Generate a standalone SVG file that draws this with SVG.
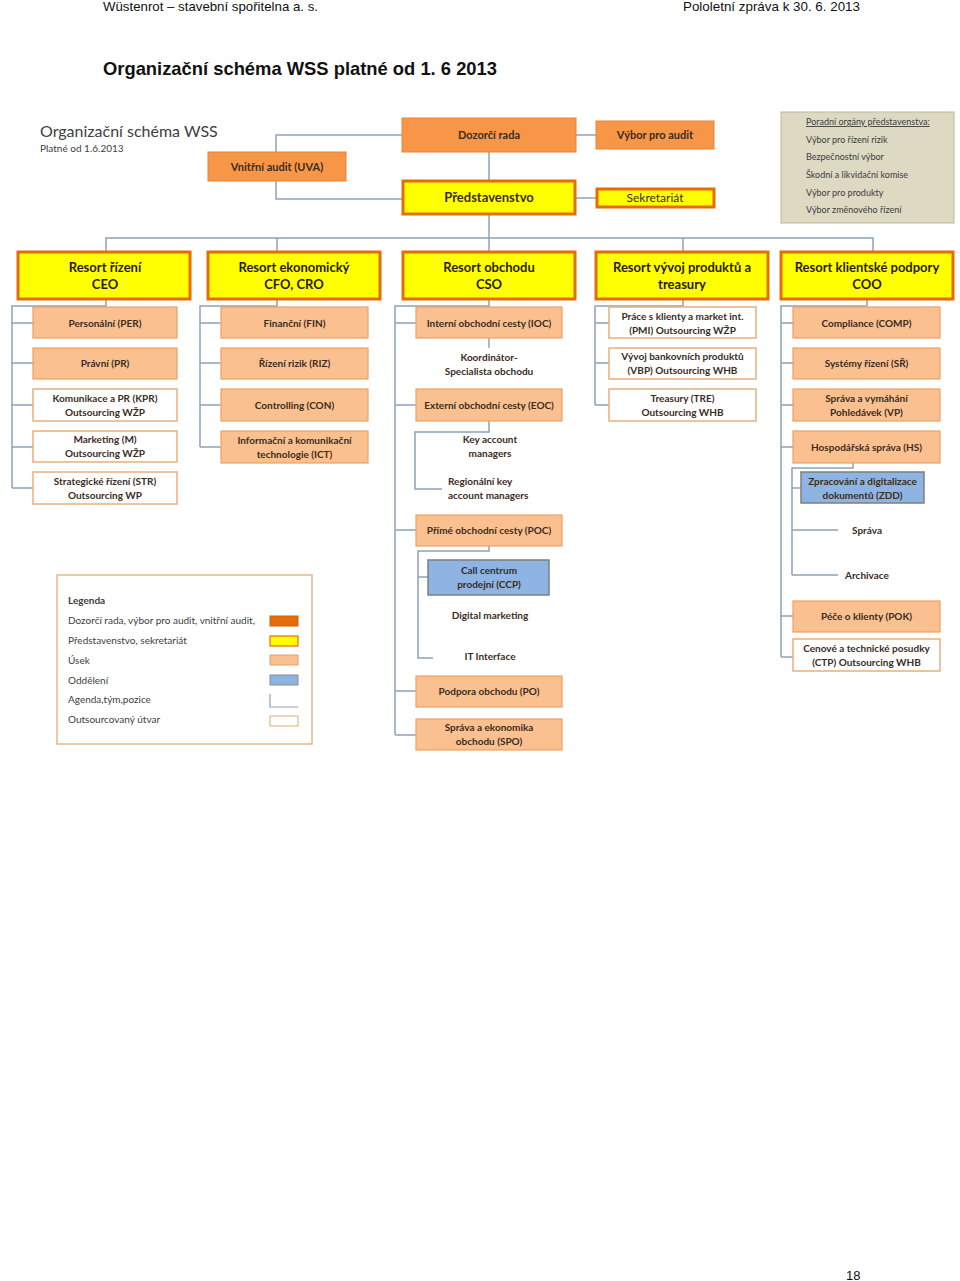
<svg xmlns="http://www.w3.org/2000/svg" width="960" height="1281" viewBox="0 0 960 1281">
<style>
.hdr{font-family:"Liberation Sans",Arial,sans-serif;fill:#111}
.t{font-family:Lato,"Open Sans",sans-serif;fill:#3a2c1e;text-anchor:middle}
.st{text-anchor:start}
.b{font-weight:bold;font-size:10px}
.r{font-weight:bold;font-size:13px;fill:#2a1c0c}
.lg{font-family:Lato,"Open Sans",sans-serif;fill:#404040;font-size:10px}
.po{font-family:Lato,"Open Sans",sans-serif;fill:#3c3c3c;font-size:9px}
.org{fill:#F79646;stroke:#E8853A;stroke-width:1}
.ye{fill:#FFFF00;stroke:#E46C0A;stroke-width:3}
.us{fill:#FAC090;stroke:#EDA063;stroke-width:1.2}
.ou{fill:#FFFFFF;stroke:#E8B07C;stroke-width:1.5}
.bl{fill:#8DB4E2;stroke:#7F7F7F;stroke-width:1.5}
.c{fill:none;stroke:#8FA2B8;stroke-width:1.5}
</style>

<!-- page header -->
<text class="hdr" x="103" y="11" font-size="13" textLength="215" lengthAdjust="spacingAndGlyphs">Wüstenrot – stavební spořitelna a. s.</text>
<text class="hdr" x="683" y="11" font-size="13" textLength="177" lengthAdjust="spacingAndGlyphs">Pololetní zpráva k 30. 6. 2013</text>
<text class="hdr" x="103" y="75" font-size="19" font-weight="bold" textLength="394" lengthAdjust="spacingAndGlyphs">Organizační schéma WSS platné od 1. 6 2013</text>
<text class="hdr" x="846" y="1280" font-size="13">18</text>

<!-- diagram title -->
<text x="40" y="137" font-family="Lato,'Open Sans',sans-serif" font-size="16" fill="#404040">Organizační schéma WSS</text>
<text x="40" y="152" font-family="Lato,'Open Sans',sans-serif" font-size="10" fill="#404040">Platné od 1.6.2013</text>

<!-- connectors -->
<g id="connectors" class="c">
<path d="M276,152 V135 H402"/>
<path d="M276,181 V199 H402"/>
<path d="M576,135 H596"/>
<path d="M489,152 V180"/>
<path d="M576,198 H596"/>
<path d="M489,215 V251"/>
<path d="M106,251 V238 H873 V251"/>
<path d="M277,238 V251"/>
<path d="M683,238 V251"/>
<!-- col1 -->
<path d="M106,300 V306 H12 V488"/>
<path d="M12,323 H33 M12,363 H33 M12,405 H33 M12,447 H33 M12,488 H33"/>
<!-- col2 -->
<path d="M277,300 V306 H200 V447"/>
<path d="M200,323 H221 M200,363 H221 M200,405 H221 M200,447 H221"/>
<!-- col3 -->
<path d="M489,300 V306 H395 V735"/>
<path d="M395,323 H416 M395,405 H416 M395,530 H416 M395,691 H416 M395,735 H416"/>
<path d="M489,338 V348"/>
<path d="M489,421 V432 H415 V489 H442"/>
<path d="M489,546 V551 H418 V658 H433"/>
<path d="M418,577 H428"/>
<!-- col4 -->
<path d="M683,300 V306 H595 V405"/>
<path d="M595,323 H609 M595,363 H609 M595,405 H609"/>
<!-- col5 -->
<path d="M867,300 V306 H781 V657"/>
<path d="M781,323 H793 M781,363 H793 M781,405 H793 M781,447 H793 M781,616 H793 M781,657 H793"/>
<path d="M853,463 V468 H792 V575"/>
<path d="M792,488 H801 M792,530 H838 M792,575 H838"/>
</g>

<!-- top nodes -->
<g id="dozorci-rada"><rect class="org" x="402" y="118" width="174" height="34"/><text class="t" x="489" y="139" font-size="11" font-weight="bold">Dozorčí rada</text></g>
<g id="vybor-audit"><rect class="org" x="596" y="121" width="118" height="28"/><text class="t" x="655" y="139" font-size="11" font-weight="bold">Výbor pro audit</text></g>
<g id="vnitrni-audit"><rect class="org" x="208" y="152" width="138" height="29"/><text class="t" x="277" y="170.5" font-size="11" font-weight="bold">Vnitřní audit (UVA)</text></g>
<g id="predstavenstvo"><rect class="ye" x="403" y="181" width="172" height="33"/><text class="t" x="489" y="202" font-size="13" font-weight="bold" fill="#2a1c0c">Představenstvo</text></g>
<g id="sekretariat"><rect class="ye" x="597" y="189" width="117" height="18" stroke-width="2.5"/><text class="t" x="655" y="202" font-size="12" fill="#5a3a1a">Sekretariát</text></g>
<g id="poradni-organy">
<rect x="781" y="112" width="173" height="111" fill="#DDD9C3" stroke="#BFB79A" stroke-width="1"/>
<text class="po" x="806" y="125" text-decoration="underline">Poradní orgány představenstva:</text>
<text class="po" x="806" y="143">Výbor pro řízení rizik</text>
<text class="po" x="806" y="160">Bezpečnostní výbor</text>
<text class="po" x="806" y="178">Škodní a likvidační komise</text>
<text class="po" x="806" y="196">Výbor pro produkty</text>
<text class="po" x="806" y="213">Výbor změnového řízení</text>
</g>

<!-- resorts -->
<g id="resort-rizeni"><rect class="ye" x="18" y="252" width="172" height="47"/><text class="t r" x="105" y="272"><tspan x="105">Resort řízení</tspan><tspan x="105" y="289">CEO</tspan></text></g>
<g id="resort-ekonomicky"><rect class="ye" x="208" y="252" width="172" height="47"/><text class="t r" x="294" y="272"><tspan x="294">Resort ekonomický</tspan><tspan x="294" y="289">CFO, CRO</tspan></text></g>
<g id="resort-obchodu"><rect class="ye" x="403" y="252" width="172" height="47"/><text class="t r" x="489" y="272"><tspan x="489">Resort obchodu</tspan><tspan x="489" y="289">CSO</tspan></text></g>
<g id="resort-vyvoj"><rect class="ye" x="596" y="252" width="172" height="47"/><text class="t r" x="682" y="272"><tspan x="682">Resort vývoj produktů a</tspan><tspan x="682" y="289">treasury</tspan></text></g>
<g id="resort-klientske"><rect class="ye" x="781" y="252" width="172" height="47"/><text class="t r" x="867" y="272"><tspan x="867">Resort klientské podpory</tspan><tspan x="867" y="289">COO</tspan></text></g>

<!-- column 1 -->
<g id="per"><rect class="us" x="33" y="307" width="144" height="31"/><text class="t b" x="105" y="326.5">Personální  (PER)</text></g>
<g id="pr"><rect class="us" x="33" y="348" width="144" height="31"/><text class="t b" x="105" y="367">Právní (PR)</text></g>
<g id="kpr"><rect class="ou" x="33" y="389" width="144" height="32"/><text class="t b" x="105" y="401.5"><tspan x="105">Komunikace a PR (KPR)</tspan><tspan x="105" y="415.5">Outsourcing  WŽP</tspan></text></g>
<g id="m"><rect class="ou" x="33" y="431" width="144" height="31"/><text class="t b" x="105" y="443"><tspan x="105">Marketing  (M)</tspan><tspan x="105" y="457">Outsourcing  WŽP</tspan></text></g>
<g id="str"><rect class="ou" x="33" y="472" width="144" height="32"/><text class="t b" x="105" y="484.5"><tspan x="105">Strategické řízení  (STR)</tspan><tspan x="105" y="498.5">Outsourcing  WP</tspan></text></g>

<!-- column 2 -->
<g id="fin"><rect class="us" x="221" y="307" width="147" height="31"/><text class="t b" x="294.5" y="326.5">Finanční  (FIN)</text></g>
<g id="riz"><rect class="us" x="221" y="348" width="147" height="31"/><text class="t b" x="294.5" y="367">Řízení rizik (RIZ)</text></g>
<g id="con"><rect class="us" x="221" y="389" width="147" height="32"/><text class="t b" x="294.5" y="409">Controlling  (CON)</text></g>
<g id="ict"><rect class="us" x="221" y="431" width="147" height="32"/><text class="t b" x="294.5" y="443.5"><tspan x="294.5">Informační  a komunikační</tspan><tspan x="294.5" y="457.5">technologie (ICT)</tspan></text></g>

<!-- column 3 -->
<g id="ioc"><rect class="us" x="416" y="307" width="146" height="31"/><text class="t b" x="489" y="326.5">Interní obchodní  cesty (IOC)</text></g>
<g id="koordinator"><text class="t b" x="489" y="361"><tspan x="489">Koordinátor-</tspan><tspan x="489" y="375">Specialista obchodu</tspan></text></g>
<g id="eoc"><rect class="us" x="416" y="389" width="146" height="32"/><text class="t b" x="489" y="409">Externí obchodní  cesty (EOC)</text></g>
<g id="key-account"><text class="t b" x="490" y="443"><tspan x="490">Key account</tspan><tspan x="490" y="457">managers</tspan></text></g>
<g id="regionalni-key"><text class="t b st" x="448" y="485"><tspan x="448">Regionální key</tspan><tspan x="448" y="499">account managers</tspan></text></g>
<g id="poc"><rect class="us" x="416" y="515" width="146" height="31"/><text class="t b" x="489" y="534">Přímé obchodní  cesty (POC)</text></g>
<g id="ccp"><rect class="bl" x="428" y="560" width="121" height="35"/><text class="t b" x="489" y="574"><tspan x="489">Call centrum</tspan><tspan x="489" y="588">prodejní  (CCP)</tspan></text></g>
<g id="digital-marketing"><text class="t b" x="490" y="619">Digital marketing</text></g>
<g id="it-interface"><text class="t b" x="490" y="660">IT Interface</text></g>
<g id="po"><rect class="us" x="416" y="676" width="146" height="31"/><text class="t b" x="489" y="695">Podpora obchodu (PO)</text></g>
<g id="spo"><rect class="us" x="416" y="719" width="146" height="31"/><text class="t b" x="489" y="731"><tspan x="489">Správa a ekonomika</tspan><tspan x="489" y="745">obchodu (SPO)</tspan></text></g>

<!-- column 4 -->
<g id="pmi"><rect class="ou" x="609" y="307" width="147" height="31"/><text class="t b" x="682.5" y="319.5"><tspan x="682.5">Práce s klienty a market int.</tspan><tspan x="682.5" y="333.5">(PMI) Outsourcing  WŽP</tspan></text></g>
<g id="vbp"><rect class="ou" x="609" y="348" width="147" height="31"/><text class="t b" x="682.5" y="360"><tspan x="682.5">Vývoj bankovních  produktů</tspan><tspan x="682.5" y="374">(VBP) Outsourcing  WHB</tspan></text></g>
<g id="tre"><rect class="ou" x="609" y="389" width="147" height="32"/><text class="t b" x="682.5" y="401.5"><tspan x="682.5">Treasury (TRE)</tspan><tspan x="682.5" y="415.5">Outsourcing  WHB</tspan></text></g>

<!-- column 5 -->
<g id="comp"><rect class="us" x="793" y="307" width="147" height="31"/><text class="t b" x="866.5" y="326.5">Compliance  (COMP)</text></g>
<g id="sr"><rect class="us" x="793" y="348" width="147" height="31"/><text class="t b" x="866.5" y="367">Systémy řízení  (SŘ)</text></g>
<g id="vp"><rect class="us" x="793" y="389" width="147" height="32"/><text class="t b" x="866.5" y="401.5"><tspan x="866.5">Správa a vymáhání</tspan><tspan x="866.5" y="415.5">Pohledávek  (VP)</tspan></text></g>
<g id="hs"><rect class="us" x="793" y="431" width="147" height="32"/><text class="t b" x="866.5" y="450.5">Hospodářská  správa (HS)</text></g>
<g id="zdd"><rect class="bl" x="801" y="472" width="123" height="31"/><text class="t b" x="862.5" y="484.5"><tspan x="862.5">Zpracování  a digitalizace</tspan><tspan x="862.5" y="498.5">dokumentů  (ZDD)</tspan></text></g>
<g id="sprava"><text class="t b" x="867" y="533.5">Správa</text></g>
<g id="archivace"><text class="t b" x="867" y="578.5">Archivace</text></g>
<g id="pok"><rect class="us" x="793" y="601" width="147" height="31"/><text class="t b" x="866.5" y="619.5">Péče o klienty (POK)</text></g>
<g id="ctp"><rect class="ou" x="793" y="639" width="147" height="32"/><text class="t b" x="866.5" y="651.5"><tspan x="866.5">Cenové  a technické  posudky</tspan><tspan x="866.5" y="665.5">(CTP) Outsourcing  WHB</tspan></text></g>

<!-- legend -->
<g id="legenda">
<rect x="57" y="575" width="255" height="169" fill="#FFFFFF" stroke="#E3B98A" stroke-width="1.5"/>
<text class="lg" x="68" y="604" font-weight="bold">Legenda</text>
<text class="lg" x="68" y="624">Dozorčí rada, výbor pro audit, vnitřní audit,</text>
<text class="lg" x="68" y="644">Představenstvo, sekretariát</text>
<text class="lg" x="68" y="664">Úsek</text>
<text class="lg" x="68" y="684">Oddělení</text>
<text class="lg" x="68" y="703">Agenda,tým,pozice</text>
<text class="lg" x="68" y="723">Outsourcovaný útvar</text>
<rect x="270" y="616" width="28" height="10" fill="#E46C0A" stroke="#D0600A" stroke-width="1"/>
<rect x="270" y="636" width="28" height="10" fill="#FFFF00" stroke="#E46C0A" stroke-width="1.2"/>
<rect x="270" y="655" width="28" height="10" fill="#FAC090" stroke="#E8A06A" stroke-width="1"/>
<rect x="270" y="675" width="28" height="10" fill="#8DB4E2" stroke="#8C8C8C" stroke-width="1"/>
<path d="M270,694 V707 H298" fill="none" stroke="#8FA2B8" stroke-width="1.2"/>
<rect x="270" y="716" width="28" height="10" fill="#FFFFFF" stroke="#E3B98A" stroke-width="1.2"/>
</g>
</svg>
